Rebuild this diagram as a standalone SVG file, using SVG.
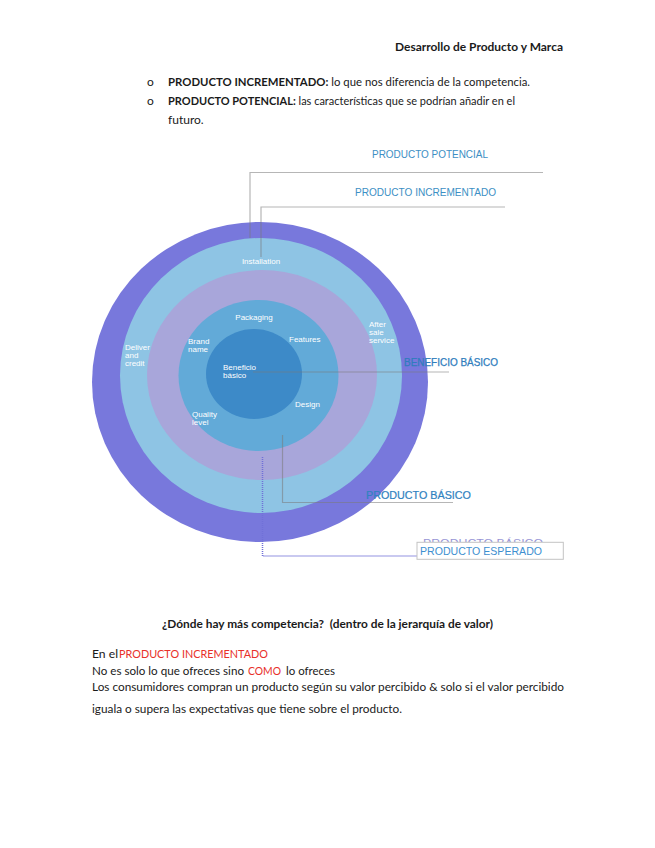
<svg xmlns="http://www.w3.org/2000/svg" width="655" height="848" viewBox="0 0 655 848">
<style>
.doc{font-family:Lato,"Liberation Sans",sans-serif;font-size:12px;fill:#1a1a1a}
.b{font-weight:bold}
.red{fill:#e8302a}
.w{font-family:"Liberation Sans",Arial,sans-serif;font-size:8px;fill:#ffffff}
.cl{font-family:"Liberation Sans",Arial,sans-serif;font-size:10.5px;fill:#3d8fc4}
.ln{fill:none;stroke:#7a7a7a;stroke-opacity:0.55;stroke-width:1.2}
</style>
<defs>
<clipPath id="ghost"><rect x="400" y="530" width="170" height="12.3"/></clipPath>
</defs>
<rect width="655" height="848" fill="#ffffff"/>
<g id="header">
<text class="doc b" x="563" y="51" text-anchor="end" textLength="168" lengthAdjust="spacingAndGlyphs">Desarrollo de Producto y Marca</text>
</g>
<g id="bullets">
<text class="doc" x="147" y="86">o</text>
<text class="doc" x="147" y="105">o</text>
<text class="doc" x="168" y="86" textLength="362" lengthAdjust="spacingAndGlyphs"><tspan class="b">PRODUCTO INCREMENTADO:</tspan> lo que nos diferencia de la competencia.</text>
<text class="doc" x="168" y="105" textLength="347" lengthAdjust="spacingAndGlyphs"><tspan class="b">PRODUCTO POTENCIAL:</tspan> las características que se podrían añadir en el</text>
<text class="doc" x="168" y="124">futuro.</text>
</g>
<g id="rings">
<ellipse id="ring-potencial" cx="260" cy="382" rx="168" ry="160" fill="#7878dc"/>
<ellipse id="ring-incrementado" cx="261" cy="375.5" rx="141" ry="137.5" fill="#8ec4e4"/>
<ellipse id="ring-esperado" cx="262" cy="375" rx="115" ry="105" fill="#a8a6da"/>
<ellipse id="ring-basico" cx="258.5" cy="375.5" rx="80" ry="75.5" fill="#62aad8"/>
<ellipse id="core-beneficio" cx="254" cy="374" rx="48" ry="45" fill="#3d8ac8"/>
</g>
<g id="ring-labels">
<text class="w" x="261" y="264" text-anchor="middle">Installation</text>
<text class="w" x="254" y="320" text-anchor="middle">Packaging</text>
<text class="w" x="188" y="343.5">Brand</text>
<text class="w" x="188" y="351.5">name</text>
<text class="w" x="289" y="342">Features</text>
<text class="w" x="369" y="327">After</text>
<text class="w" x="369" y="335">sale</text>
<text class="w" x="369" y="343">service</text>
<text class="w" x="125" y="350">Deliver</text>
<text class="w" x="125" y="358">and</text>
<text class="w" x="125" y="366">credit</text>
<text class="w" x="223" y="369.5">Beneficio</text>
<text class="w" x="223" y="378">básico</text>
<text class="w" x="295" y="407">Design</text>
<text class="w" x="192" y="417">Quality</text>
<text class="w" x="192" y="425">level</text>
</g>
<g id="connectors">
<path class="ln" d="M543 172.5H250V238"/>
<path class="ln" d="M505 207H261V257"/>
<path class="ln" d="M253 372H449"/>
<path class="ln" d="M282.5 435V502.5H453"/>
<path d="M262.5 457V556H417" fill="none" stroke="#7070d8" stroke-width="1.5" stroke-dasharray="1 1"/>
</g>
<g id="callouts">
<text class="cl" x="372" y="158" textLength="116" lengthAdjust="spacingAndGlyphs">PRODUCTO POTENCIAL</text>
<text class="cl" x="355" y="196" textLength="141" lengthAdjust="spacingAndGlyphs">PRODUCTO INCREMENTADO</text>
<text class="cl" x="404" y="366" textLength="94" lengthAdjust="spacingAndGlyphs" style="fill:#2f7dbd;stroke:#2f7dbd;stroke-width:0.25">BENEFICIO BÁSICO</text>
<text class="cl" x="366" y="499" textLength="105" lengthAdjust="spacingAndGlyphs" style="fill:#2f82c0;stroke:#2f82c0;stroke-width:0.2">PRODUCTO BÁSICO</text>
<text class="cl" x="423" y="547" textLength="120" lengthAdjust="spacingAndGlyphs" clip-path="url(#ghost)" style="fill:#9896d6">PRODUCTO BÁSICO</text>
<rect x="417" y="542.3" width="146.3" height="17" fill="#ffffff" stroke="#c4c4c4" stroke-width="1"/>
<text class="cl" x="420" y="555" textLength="122" lengthAdjust="spacingAndGlyphs" style="fill:#3d8fd0">PRODUCTO ESPERADO</text>
</g>
<g id="bottom-text">
<text class="doc b" x="162" y="628" textLength="331" lengthAdjust="spacingAndGlyphs" xml:space="preserve">¿Dónde hay más competencia?  (dentro de la jerarquía de valor)</text>
<text class="doc" x="92" y="658" textLength="26" lengthAdjust="spacingAndGlyphs">En el</text>
<text class="doc red" x="119" y="658" textLength="149" lengthAdjust="spacingAndGlyphs">PRODUCTO INCREMENTADO</text>
<text class="doc" x="92" y="675" textLength="152" lengthAdjust="spacingAndGlyphs">No es solo lo que ofreces sino</text>
<text class="doc red" x="248" y="675" textLength="33" lengthAdjust="spacingAndGlyphs">COMO</text>
<text class="doc" x="286" y="675" textLength="49" lengthAdjust="spacingAndGlyphs">lo ofreces</text>
<text class="doc" x="92" y="691" textLength="472" lengthAdjust="spacingAndGlyphs">Los consumidores compran un producto según su valor percibido &amp; solo si el valor percibido</text>
<text class="doc" x="92" y="713" textLength="310" lengthAdjust="spacingAndGlyphs">iguala o supera las expectativas que tiene sobre el producto.</text>
</g>
</svg>
